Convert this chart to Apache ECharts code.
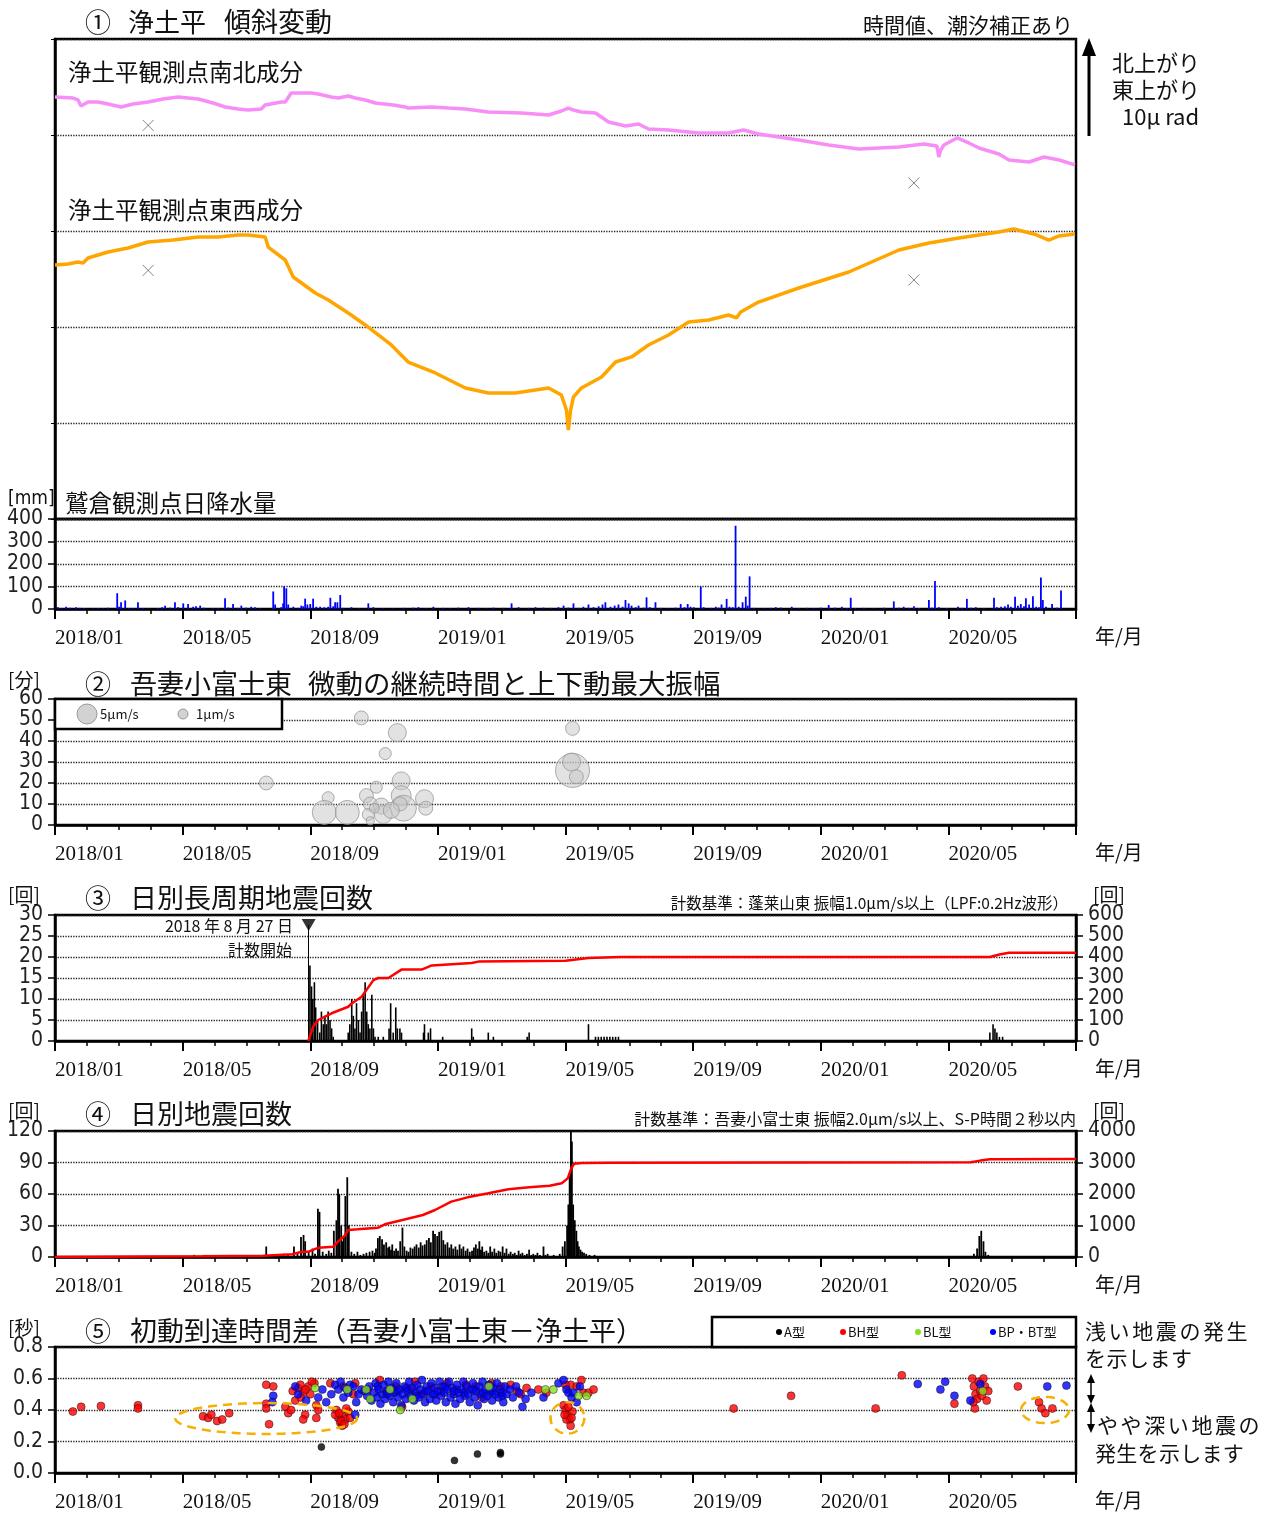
<!DOCTYPE html>
<html><head><meta charset="utf-8">
<script src="https://cdn.jsdelivr.net/npm/echarts/dist/echarts.min.js"></script>
<style>html,body{margin:0;padding:0;background:#fff}#c{width:1272px;height:1515px}</style>
</head><body><div id="c"></div>
<script>
// x values are months since 2018-01-01 (fractional)
const xLabels = ['2018/01','2018/05','2018/09','2019/01','2019/05','2019/09','2020/01','2020/05'];

const tiltNS = [[0,43.96],[0.565,43.85],[0.722,43.65],[0.816,43.02],[1.035,43.44],[1.349,43.44],[1.663,43.23],[2.071,42.92],[2.447,43.23],[2.918,43.44],[3.388,43.75],[3.859,43.96],[4.486,43.75],[4.957,43.33],[5.333,42.92],[5.741,42.71],[6.055,42.60],[6.463,42.71],[6.588,43.13],[7.090,43.44],[7.216,43.44],[7.404,44.38],[8.031,44.38],[8.251,44.27],[8.659,43.96],[8.878,43.85],[9.192,44.06],[9.412,43.85],[9.725,43.65],[10.04,43.33],[10.60,43.13],[10.98,42.92],[11.07,42.81],[11.80,42.92],[12.33,42.81],[12.86,42.71],[13.58,42.40],[14.62,42.29],[15.47,42.08],[15.87,42.50],[16.09,42.81],[16.25,42.60],[16.50,42.40],[16.94,42.29],[17.35,41.35],[17.88,40.94],[18.29,41.15],[18.60,40.63],[19.23,40.52],[20.17,40.21],[21.11,40.21],[21.58,40.52],[22.05,40.10],[22.68,39.79],[23.31,39.48],[24.25,38.96],[25.19,38.54],[25.82,38.65],[26.45,38.75],[27.23,39.06],[27.64,38.85],[27.70,37.71],[27.76,38.44],[27.86,38.96],[28.27,39.69],[28.64,39.17],[28.96,38.65],[29.58,38.02],[29.90,37.40],[30.53,37.19],[31.00,37.71],[31.47,37.40],[31.97,36.88]];

const tiltEW = [[0,26.46],[0.408,26.56],[0.722,26.77],[0.878,26.67],[1.035,27.19],[1.663,27.81],[2.290,28.23],[2.918,28.85],[3.702,29.06],[4.486,29.38],[5.114,29.38],[5.741,29.58],[6.055,29.58],[6.588,29.38],[6.682,28.33],[7.216,26.98],[7.467,25.21],[8.157,23.54],[8.565,22.81],[9.192,21.46],[9.725,20.21],[10.54,18.13],[11.07,16.35],[11.92,15.21],[12.86,13.65],[13.58,13.13],[14.43,13.13],[15.47,13.65],[15.87,12.92],[16.03,11.35],[16.09,9.27],[16.16,11.35],[16.25,12.71],[16.50,13.65],[17.13,14.79],[17.57,16.35],[18.07,16.88],[18.60,18.13],[19.23,19.17],[19.86,20.52],[20.49,20.73],[21.11,21.25],[21.36,20.94],[21.49,21.56],[22.05,22.60],[23.31,24.06],[24.88,25.73],[26.45,28.02],[27.39,28.75],[28.33,29.27],[29.58,29.90],[30.05,30.21],[30.68,29.69],[31.15,29.06],[31.47,29.48],[31.97,29.69]];

const tiltMarks = [[2.92,41.0],[26.92,35.0],[2.92,25.9],[26.92,24.9]];

const rain = [[0.09,8],[0.19,5],[0.35,10],[0.47,6],[0.66,8],[0.78,5],[0.91,4],[1.19,3],[1.35,5],[1.51,4],[1.66,6],[1.95,70],[2.01,10],[2.07,30],[2.20,38],[2.32,5],[2.45,3],[2.60,30],[2.76,4],[2.92,3],[3.23,5],[3.36,8],[3.45,15],[3.61,6],[3.76,30],[3.86,8],[4.02,25],[4.17,22],[4.33,10],[4.42,12],[4.55,15],[4.67,6],[4.96,4],[5.11,5],[5.33,48],[5.43,6],[5.58,22],[5.74,5],[5.84,15],[5.99,6],[6.15,10],[6.27,8],[6.43,4],[6.84,78],[6.90,20],[7.09,8],[7.15,25],[7.18,100],[7.25,92],[7.31,20],[7.47,10],[7.62,5],[7.72,15],[7.78,12],[7.84,46],[7.91,20],[8.00,22],[8.09,46],[8.19,10],[8.31,10],[8.44,8],[8.56,10],[8.63,50],[8.72,12],[8.78,30],[8.85,30],[8.94,62],[9.04,5],[9.29,8],[9.51,4],[9.82,25],[9.98,8],[10.29,4],[10.60,3],[10.92,5],[11.23,6],[11.39,8],[11.64,4],[11.86,10],[12.17,5],[12.39,4],[12.64,6],[12.96,8],[13.27,5],[13.52,4],[13.74,6],[14.06,5],[14.31,25],[14.53,8],[14.84,5],[15.06,8],[15.31,6],[15.53,5],[15.78,8],[15.94,15],[16.09,6],[16.25,25],[16.41,5],[16.56,10],[16.72,20],[16.88,8],[17.04,12],[17.16,20],[17.25,30],[17.41,10],[17.54,15],[17.66,20],[17.79,10],[17.88,40],[17.98,25],[18.07,15],[18.20,8],[18.29,15],[18.45,6],[18.54,52],[18.64,8],[18.82,30],[18.98,5],[19.23,4],[19.45,6],[19.61,22],[19.73,8],[19.83,22],[19.92,10],[20.02,8],[20.24,100],[20.33,8],[20.55,5],[20.71,10],[20.80,6],[20.89,20],[21.05,45],[21.14,10],[21.24,8],[21.33,370],[21.43,10],[21.55,30],[21.65,55],[21.71,15],[21.77,145],[21.90,5],[22.21,4],[22.43,5],[22.59,8],[22.75,6],[23.09,10],[23.31,4],[23.56,5],[23.78,4],[24.00,6],[24.25,18],[24.44,6],[24.66,10],[24.82,5],[24.94,50],[25.07,4],[25.35,5],[25.66,4],[25.98,6],[26.29,34],[26.45,6],[26.60,10],[26.76,5],[26.92,12],[27.07,4],[27.39,40],[27.48,6],[27.58,125],[27.70,8],[27.95,4],[28.30,10],[28.42,5],[28.58,45],[28.71,6],[28.86,8],[29.11,4],[29.43,50],[29.52,8],[29.65,10],[29.77,12],[29.87,20],[29.96,10],[30.09,55],[30.18,15],[30.27,22],[30.37,12],[30.43,48],[30.53,20],[30.65,57],[30.75,10],[30.84,8],[30.90,140],[30.96,40],[31.06,10],[31.25,22],[31.40,6],[31.53,82]];

// [month, duration (min), max vertical amplitude (um/s)]
const tremor = [[6.62,20,2.4],[9.60,51,2.4],[10.73,44,4.0],[10.35,34,1.8],[8.56,13,1.8],[8.44,6,7.1],[9.16,6,7.1],[9.76,14,2.4],[10.07,18,1.8],[9.88,10,2.4],[9.82,5,1.8],[9.88,2,0.8],[10.23,9,3.2],[10.29,5,4.0],[10.85,21,4.0],[10.85,14,4.9],[10.92,8,8.3],[10.82,10,2.4],[11.58,12.5,4.0],[11.62,8,2.4],[10.54,7,3.2],[10.01,8,1.2],[16.22,46,2.4],[16.22,26,14.3],[16.19,30,4.0],[16.34,23,2.4]];

const lpCount = [[7.99,18],[8.04,13],[8.08,10],[8.13,14],[8.17,8],[8.23,5],[8.30,2],[8.35,7],[8.41,4],[8.46,6],[8.51,4],[8.56,7],[8.62,5],[8.67,3],[8.72,1],[9.19,2],[9.24,4],[9.30,10],[9.35,6],[9.40,3],[9.45,9],[9.51,5],[9.56,2],[9.61,7],[9.66,11],[9.72,14],[9.77,7],[9.82,4],[9.87,3],[9.93,11],[9.98,3],[10.03,1],[10.13,1],[10.29,1],[10.47,3],[10.52,9],[10.60,2],[10.68,8],[10.73,3],[10.81,3],[10.86,2],[11.55,2],[11.58,4],[11.70,2],[11.77,3],[12.15,1],[13.06,3],[13.11,1],[13.58,2],[13.74,1],[14.80,1],[14.86,2],[16.72,4],[16.94,1],[17.03,1],[17.12,1],[17.21,1],[17.30,1],[17.39,1],[17.48,1],[17.57,1],[17.66,1],[29.30,2],[29.40,4],[29.46,3],[29.52,2],[29.60,1],[29.70,1]];
const lpCum = [[7.94,0],[8.09,68],[8.25,100],[8.67,132],[9.19,163],[9.30,179],[9.61,211],[9.98,290],[10.13,300],[10.45,300],[10.86,340],[11.49,340],[11.81,360],[13.06,371],[13.27,378],[16.00,382],[16.72,395],[17.70,400],[29.30,400],[29.60,412],[29.90,420],[32,420]];
const lpStart = [[7.95,27.6]];

const eqCount = [[4.36,2],[4.74,2],[5.50,1],[6.00,1],[6.62,10],[6.90,2],[7.17,3],[7.30,2],[7.49,10],[7.60,4],[7.71,19],[7.79,21],[7.84,15],[7.95,5],[8.07,8],[8.15,3],[8.24,46],[8.29,43],[8.39,5],[8.50,3],[8.58,6],[8.66,4],[8.74,25],[8.82,35],[8.87,65],[8.91,60],[8.97,30],[9.01,15],[9.05,20],[9.10,58],[9.16,76],[9.21,30],[9.29,5],[9.38,3],[9.48,5],[9.57,2],[9.67,3],[9.76,4],[9.86,5],[9.95,6],[10.02,4],[10.06,8],[10.12,18],[10.18,20],[10.25,17],[10.31,12],[10.38,14],[10.44,9],[10.48,10],[10.53,7],[10.57,12],[10.63,6],[10.69,8],[10.75,6],[10.82,15],[10.89,28],[10.95,10],[11.02,6],[11.08,5],[11.14,9],[11.21,8],[11.27,10],[11.33,12],[11.40,9],[11.46,14],[11.52,11],[11.59,12],[11.65,16],[11.72,18],[11.78,14],[11.85,25],[11.91,22],[11.98,20],[12.04,24],[12.11,25],[12.17,16],[12.23,12],[12.30,14],[12.36,9],[12.42,12],[12.48,8],[12.55,10],[12.61,7],[12.68,12],[12.74,8],[12.80,10],[12.87,6],[12.93,8],[13.00,5],[13.07,6],[13.13,9],[13.19,12],[13.25,8],[13.30,15],[13.35,7],[13.39,10],[13.45,5],[13.52,6],[13.58,4],[13.64,10],[13.70,5],[13.77,8],[13.83,4],[13.90,6],[13.96,5],[14.03,10],[14.09,4],[14.15,8],[14.22,3],[14.28,5],[14.35,3],[14.41,4],[14.47,2],[14.53,6],[14.59,3],[14.65,4],[14.72,2],[14.79,3],[14.86,7],[14.93,2],[14.99,3],[15.06,2],[15.12,4],[15.20,2],[15.31,10],[15.37,2],[15.44,3],[15.52,1],[15.63,2],[15.72,1],[15.82,3],[15.91,10],[15.98,15],[16.05,30],[16.09,50],[16.13,80],[16.17,120],[16.20,110],[16.24,50],[16.29,35],[16.34,25],[16.38,15],[16.42,10],[16.47,7],[16.52,5],[16.58,4],[16.65,3],[16.75,2],[16.91,2],[17.10,1],[17.40,1],[28.80,3],[28.90,8],[28.97,20],[29.03,25],[29.10,15],[29.16,5],[29.25,2]];
const eqCum = [[0,0],[4.61,20],[6.53,42],[7.43,85],[7.75,170],[7.95,170],[8.26,296],[8.72,328],[8.87,487],[9.07,667],[9.19,857],[9.48,878],[10.13,931],[10.37,1048],[10.89,1175],[11.53,1333],[11.91,1492],[12.42,1757],[12.93,1894],[13.58,2021],[14.21,2148],[14.86,2212],[15.50,2265],[15.88,2339],[16.07,2497],[16.18,2815],[16.27,2960],[16.52,2985],[17.41,2995],[28.70,3010],[29.00,3060],[29.30,3100],[32,3110]];

const typeA = [[8.35,0.165],[12.52,0.08],[13.24,0.12],[13.96,0.13],[13.96,0.12]];
const typeBH = [[0.56,0.39],[0.82,0.42],[1.44,0.425],[2.60,0.43],[2.60,0.41],[4.64,0.36],[4.80,0.35],[4.90,0.37],[5.08,0.33],[5.24,0.34],[5.46,0.38],[6.62,0.56],[6.84,0.55],[6.71,0.31],[6.62,0.44],[6.62,0.41],[7.22,0.42],[7.31,0.38],[7.40,0.40],[7.53,0.46],[7.62,0.54],[7.69,0.56],[7.78,0.51],[7.84,0.37],[7.78,0.34],[7.94,0.55],[8.00,0.50],[8.13,0.57],[8.19,0.43],[8.25,0.40],[8.19,0.35],[7.45,0.52],[7.70,0.48],[7.85,0.53],[8.05,0.58],[8.82,0.40],[8.88,0.35],[8.94,0.32],[9.04,0.37],[9.10,0.34],[9.00,0.30],[9.19,0.39],[8.78,0.37],[8.91,0.38],[9.13,0.41],[9.25,0.35],[8.97,0.33],[9.07,0.31],[8.63,0.57],[9.04,0.55],[9.35,0.50],[9.41,0.57],[9.80,0.53],[10.18,0.59],[10.38,0.51],[10.68,0.55],[10.88,0.42],[11.12,0.53],[11.28,0.58],[11.48,0.50],[11.78,0.55],[12.08,0.52],[12.28,0.57],[12.58,0.53],[12.88,0.56],[13.18,0.55],[13.38,0.48],[13.68,0.57],[13.98,0.55],[14.28,0.56],[14.48,0.52],[14.78,0.54],[14.60,0.50],[15.15,0.53],[15.40,0.51],[16.16,0.56],[16.35,0.55],[16.50,0.59],[16.56,0.51],[16.72,0.51],[16.88,0.53],[16.00,0.56],[15.94,0.43],[16.00,0.40],[16.06,0.37],[16.13,0.34],[16.16,0.30],[16.22,0.39],[16.03,0.34],[16.09,0.42],[16.19,0.35],[15.97,0.37],[21.27,0.41],[23.07,0.49],[25.72,0.41],[26.54,0.62],[28.19,0.44],[28.83,0.41],[28.75,0.60],[28.80,0.55],[28.85,0.50],[28.90,0.47],[28.95,0.58],[29.00,0.52],[29.05,0.49],[29.10,0.60],[29.15,0.55],[29.20,0.46],[29.25,0.52],[28.78,0.45],[30.18,0.55],[30.84,0.45],[30.92,0.41],[31.04,0.38],[31.26,0.41]];
const typeBL = [[8.15,0.54],[9.16,0.53],[9.75,0.53],[9.88,0.47],[10.50,0.53],[10.82,0.40],[11.20,0.47],[13.60,0.55],[15.37,0.53],[15.62,0.53],[16.41,0.49],[16.66,0.49],[29.08,0.52]];
const typeBP = [[6.84,0.49],[6.81,0.45],[7.53,0.55],[7.62,0.50],[7.87,0.46],[8.25,0.48],[8.38,0.53],[8.50,0.45],[8.66,0.50],[8.78,0.56],[8.88,0.53],[8.95,0.58],[9.04,0.48],[9.10,0.54],[9.19,0.51],[9.25,0.56],[9.35,0.55],[9.44,0.45],[9.51,0.50],[9.60,0.53],[9.41,0.37],[9.70,0.52],[9.78,0.49],[9.85,0.55],[9.92,0.46],[10.00,0.51],[10.05,0.57],[10.10,0.48],[10.12,0.55],[10.15,0.53],[10.20,0.44],[10.25,0.50],[10.30,0.56],[10.35,0.47],[10.40,0.52],[10.42,0.50],[10.45,0.58],[10.50,0.49],[10.55,0.54],[10.60,0.45],[10.65,0.51],[10.70,0.57],[10.72,0.52],[10.75,0.48],[10.80,0.53],[10.85,0.43],[10.90,0.50],[10.95,0.55],[11.00,0.47],[11.02,0.54],[11.05,0.52],[11.10,0.58],[11.15,0.49],[11.20,0.54],[11.25,0.46],[11.30,0.51],[11.32,0.49],[11.35,0.56],[11.40,0.48],[11.45,0.53],[11.50,0.59],[11.55,0.50],[11.60,0.45],[11.62,0.52],[11.65,0.55],[11.70,0.52],[11.75,0.47],[11.80,0.57],[11.85,0.50],[11.90,0.54],[11.92,0.50],[11.95,0.46],[12.00,0.52],[12.05,0.58],[12.10,0.49],[12.15,0.55],[12.20,0.51],[12.22,0.55],[12.25,0.45],[12.30,0.53],[12.35,0.58],[12.40,0.48],[12.45,0.54],[12.50,0.50],[12.52,0.52],[12.55,0.44],[12.60,0.56],[12.65,0.51],[12.70,0.47],[12.75,0.53],[12.80,0.58],[12.82,0.51],[12.85,0.49],[12.90,0.55],[12.95,0.50],[13.00,0.45],[13.05,0.53],[13.10,0.57],[13.12,0.53],[13.15,0.48],[13.20,0.52],[13.25,0.43],[13.30,0.55],[13.35,0.50],[13.40,0.58],[13.42,0.51],[13.45,0.47],[13.50,0.53],[13.55,0.49],[13.60,0.56],[13.65,0.51],[13.70,0.46],[13.72,0.52],[13.75,0.54],[13.80,0.50],[13.85,0.57],[13.90,0.48],[13.95,0.53],[14.00,0.51],[14.02,0.49],[14.05,0.45],[14.10,0.55],[14.15,0.50],[14.25,0.53],[14.35,0.48],[14.45,0.55],[14.55,0.51],[14.65,0.42],[14.75,0.47],[14.93,0.51],[15.31,0.48],[15.78,0.57],[15.94,0.59],[16.03,0.53],[16.09,0.51],[16.19,0.48],[16.25,0.51],[16.35,0.45],[16.45,0.55],[27.04,0.565],[27.75,0.53],[27.90,0.58],[28.19,0.49],[28.69,0.46],[29.00,0.565],[31.10,0.55],[31.70,0.555]];
// dashed ellipses [centre month, centre sec, half-width months, half-height sec]
const ellipses = [[6.62,0.346,2.85,0.098],[16.06,0.35,0.53,0.10],[31.03,0.40,0.75,0.083]];

const JP = "'Noto Sans CJK JP','Noto Sans',sans-serif";
const NUM = "'Liberation Sans Narrow','DejaVu Sans Condensed','Liberation Sans',sans-serif";
const SERIF = "'Liberation Serif','DejaVu Serif',serif";

const L = 55, W = 1021;
const gridTops = [[39,480],[519,90],[699,126],[915,126],[1131,126],[1347,126]];
const grids = gridTops.map(([t,h]) => ({left:L, width:W, top:t, height:h, show:true, borderColor:'#000', borderWidth:2.5, backgroundColor:'transparent'}));

function xAx(gi, show){
  return {type:'value', gridIndex:gi, min:0, max:32, interval:4,
    axisLine:{show:show, lineStyle:{color:'#000', width:2.5}},
    axisTick:{show:show, length:10, lineStyle:{color:'#000', width:2}},
    minorTick:{show:show, splitNumber:4, length:5, lineStyle:{color:'#000', width:1.5}},
    splitLine:{show:false}, minorSplitLine:{show:false},
    axisLabel:{show:show, align:'left', margin:19, fontFamily:SERIF, fontSize:21, color:'#111',
      formatter: v => xLabels[Math.round(v/4)] !== undefined && v < 32 ? xLabels[Math.round(v/4)] : ''}};
}
const dotted = {show:true, lineStyle:{type:'dotted', color:'#222', width:1.3}};
function yAx(gi, min, max, interval, opts){
  opts = opts || {};
  const right = opts.position === 'right';
  return Object.assign({type:'value', gridIndex:gi, min, max, interval,
    axisLine:{show:true, lineStyle:{color:'#000', width:2.5}},
    axisTick:{show:true, length:7, lineStyle:{color:'#000', width:1.5}},
    splitLine: right ? {show:false} : dotted,
    axisLabel:{show:true, margin:12, fontFamily:NUM, fontSize:21, color:'#222',
      formatter: opts.fmt || (v => String(v))}}, opts.extra || {});
}

const xAxes = [xAx(0,false), xAx(1,true), xAx(2,true), xAx(3,true), xAx(4,true), xAx(5,true)];
const yAxes = [
  yAx(0,0,50,10,{extra:{axisLabel:{show:false}, axisTick:{show:true,length:4,lineStyle:{color:'#000'}}}}),
  yAx(1,0,400,100),
  yAx(2,0,60,10),
  yAx(3,0,30,5),
  yAx(3,0,600,100,{position:'right', extra:{position:'right'}}),
  yAx(4,0,120,30),
  yAx(4,0,4000,1000,{position:'right', extra:{position:'right'}}),
  yAx(5,0,0.8,0.2,{fmt: v => v.toFixed(1)})
];

function txt(t, x, y, size, opts){
  opts = opts || {};
  return {type:'text', x, y, z:100, style:{text:t, fontSize:size, fontFamily:opts.font || JP, fill:opts.fill || '#111',
    align:opts.align || 'left', verticalAlign:'middle'}};
}
function spaced(t, x, y, pitch, size){
  return Array.from(t).map((ch,i) => txt(ch, x + i*pitch, y, size));
}

const graphics = [
  txt('①', 85, 22, 26), txt('浄土平', 128, 22, 26), txt('傾斜変動', 224, 22, 27),
  txt('時間値、潮汐補正あり', 1073, 25, 21, {align:'right'}),
  txt('浄土平観測点南北成分', 68, 72, 23.5),
  txt('浄土平観測点東西成分', 68, 210, 23.5),
  txt('北上がり', 1112, 63, 22), txt('東上がり', 1112, 90, 22), txt('10μ rad', 1122, 117, 22),
  {type:'line', z:100, shape:{x1:1089, y1:52, x2:1089, y2:136}, style:{stroke:'#000', lineWidth:3}},
  {type:'polygon', z:100, shape:{points:[[1082,56],[1096,56],[1089,38]]}, style:{fill:'#000'}},
  txt('[mm]', 8, 499, 19, {font:NUM}), txt('鷲倉観測点日降水量', 65, 503, 23.5),
  txt('[分]', 8, 680, 19),
  txt('②', 85, 684, 26), txt('吾妻小富士東', 130, 684, 27), txt('微動の継続時間と上下動最大振幅', 308, 684, 27.5),
  {type:'rect', z:100, shape:{x:55, y:699, width:227, height:30}, style:{fill:'#fff', stroke:'#000', lineWidth:2.5}},
  {type:'circle', z:101, shape:{cx:87, cy:714, r:10}, style:{fill:'#d2d2d2', stroke:'#999', lineWidth:1}},
  txt('5μm/s', 100, 714, 13),
  {type:'circle', z:101, shape:{cx:183, cy:714, r:5}, style:{fill:'#d2d2d2', stroke:'#999', lineWidth:1}},
  txt('1μm/s', 196, 714, 13),
  txt('[回]', 8, 895, 19), txt('③', 85, 898, 26), txt('日別長周期地震回数', 130, 898, 27),
  txt('計数基準：蓬莱山東 振幅1.0μm/s以上（LPF:0.2Hz波形）', 1068, 903, 15.5, {align:'right'}),
  txt('[回]', 1093, 895, 19),
  txt('2018 年 8 月 27 日', 293, 926, 16, {align:'right'}),
  txt('計数開始', 292, 950, 16, {align:'right'}),
  txt('[回]', 8, 1111, 19), txt('④', 85, 1114, 26), txt('日別地震回数', 130, 1114, 27),
  txt('計数基準：吾妻小富士東 振幅2.0μm/s以上、S-P時間２秒以内', 1076, 1119, 16, {align:'right'}),
  txt('[回]', 1093, 1111, 19),
  txt('[秒]', 8, 1328, 19), txt('⑤', 85, 1331, 26), txt('初動到達時間差（吾妻小富士東－浄土平）', 130, 1331, 27),
  {type:'rect', z:100, shape:{x:712, y:1317, width:364, height:30}, style:{fill:'#fff', stroke:'#000', lineWidth:2.5}},
  {type:'circle', z:101, shape:{cx:779, cy:1332, r:3}, style:{fill:'#000'}}, txt('A型', 784, 1332, 13),
  {type:'circle', z:101, shape:{cx:843, cy:1332, r:3}, style:{fill:'#ff0000'}}, txt('BH型', 848, 1332, 13),
  {type:'circle', z:101, shape:{cx:918, cy:1332, r:3}, style:{fill:'#88dd22'}}, txt('BL型', 923, 1332, 13),
  {type:'circle', z:101, shape:{cx:993, cy:1332, r:3}, style:{fill:'#0000ff'}}, txt('BP・BT型', 998, 1332, 13),
  // double arrows
  {type:'line', z:100, shape:{x1:1091, y1:1378, x2:1091, y2:1399}, style:{stroke:'#000', lineWidth:1.5}},
  {type:'polygon', z:100, shape:{points:[[1087,1383],[1095,1383],[1091,1374]]}, style:{fill:'#000'}},
  {type:'polygon', z:100, shape:{points:[[1087,1395],[1095,1395],[1091,1404]]}, style:{fill:'#000'}},
  {type:'line', z:100, shape:{x1:1091, y1:1407, x2:1091, y2:1428}, style:{stroke:'#000', lineWidth:1.5}},
  {type:'polygon', z:100, shape:{points:[[1087,1412],[1095,1412],[1091,1403]]}, style:{fill:'#000'}},
  {type:'polygon', z:100, shape:{points:[[1087,1424],[1095,1424],[1091,1433]]}, style:{fill:'#000'}}
].concat(
  spaced('浅い地震の発生', 1085, 1331, 23.6, 21),
  spaced('を示します', 1085, 1358, 21.5, 21),
  spaced('やや深い地震の', 1097, 1425, 23.6, 21),
  spaced('発生を示します', 1095, 1453, 21.3, 21),
  [636, 852, 1068, 1284, 1500].map(y => txt('年/月', 1095, y, 20))
);

const ptStyle = c => ({color:c, borderColor:'#111', borderWidth:0.6});
const series = [
  {type:'line', xAxisIndex:0, yAxisIndex:0, data:tiltNS, showSymbol:false, lineStyle:{color:'#f78ef7', width:3.5}},
  {type:'line', xAxisIndex:0, yAxisIndex:0, data:tiltEW, showSymbol:false, lineStyle:{color:'#ffa500', width:3.5}},
  {type:'scatter', xAxisIndex:0, yAxisIndex:0, data:tiltMarks, symbol:'path://M0,0L10,10M10,0L0,10', symbolSize:11,
    itemStyle:{color:'none', borderColor:'#666', borderWidth:1}},
  {type:'bar', xAxisIndex:1, yAxisIndex:1, data:rain, barWidth:1.8, itemStyle:{color:'#0000ff'}},
  {type:'scatter', xAxisIndex:2, yAxisIndex:2, data:tremor, symbolSize: d => 9*Math.sqrt(d[2]),
    itemStyle:{color:'rgba(200,200,200,0.65)', borderColor:'#999', borderWidth:1}},
  {type:'bar', xAxisIndex:3, yAxisIndex:3, data:lpCount, barWidth:1.6, itemStyle:{color:'#000'},
    markLine:{silent:true, symbol:['none','none'], label:{show:false}, lineStyle:{color:'#000', width:1, type:'solid'},
      data:[[{coord:[lpStart[0][0], lpStart[0][1]]},{coord:[lpStart[0][0], 0]}]]}},
  {type:'scatter', xAxisIndex:3, yAxisIndex:3, data:lpStart, symbol:'triangle', symbolRotate:180, symbolSize:[14,12],
    itemStyle:{color:'#000'}, z:10},
  {type:'line', xAxisIndex:3, yAxisIndex:4, data:lpCum, showSymbol:false, lineStyle:{color:'#ff0000', width:2.5}, z:5},
  {type:'bar', xAxisIndex:4, yAxisIndex:5, data:eqCount, barWidth:1.8, itemStyle:{color:'#000'}},
  {type:'line', xAxisIndex:4, yAxisIndex:6, data:eqCum, showSymbol:false, lineStyle:{color:'#ff0000', width:2.5}, z:5},
  {type:'scatter', xAxisIndex:5, yAxisIndex:7, data:typeBH, symbolSize:8, itemStyle:ptStyle('#ff0000')},
  {type:'scatter', xAxisIndex:5, yAxisIndex:7, data:typeBP, symbolSize:8, itemStyle:ptStyle('#0000ff')},
  {type:'scatter', xAxisIndex:5, yAxisIndex:7, data:typeBL, symbolSize:8, itemStyle:ptStyle('#88dd22')},
  {type:'scatter', xAxisIndex:5, yAxisIndex:7, data:typeA, symbolSize:7, itemStyle:ptStyle('#000')},
  {type:'custom', xAxisIndex:5, yAxisIndex:7, data:ellipses, z:8, clip:false,
    renderItem: (params, api) => {
      const c = api.coord([api.value(0), api.value(1)]);
      const s = api.size([api.value(2), api.value(3)]);
      const pts = [];
      for (let i = 0; i <= 90; i++) { const a = i/90*2*Math.PI; pts.push([c[0] + s[0]*Math.cos(a), c[1] + s[1]*Math.sin(a)]); }
      return {type:'polyline', shape:{points:pts}, style:{stroke:'#f5b000', lineWidth:2.5, lineDash:[9,6], fill:null}};
    }}
];

const chart = echarts.init(document.getElementById('c'), null, {renderer:'canvas'});
chart.setOption({animation:false, backgroundColor:'#fff', textStyle:{fontFamily:JP},
  grid:grids, xAxis:xAxes, yAxis:yAxes, series, graphic:{elements:graphics}});
</script></body></html>
